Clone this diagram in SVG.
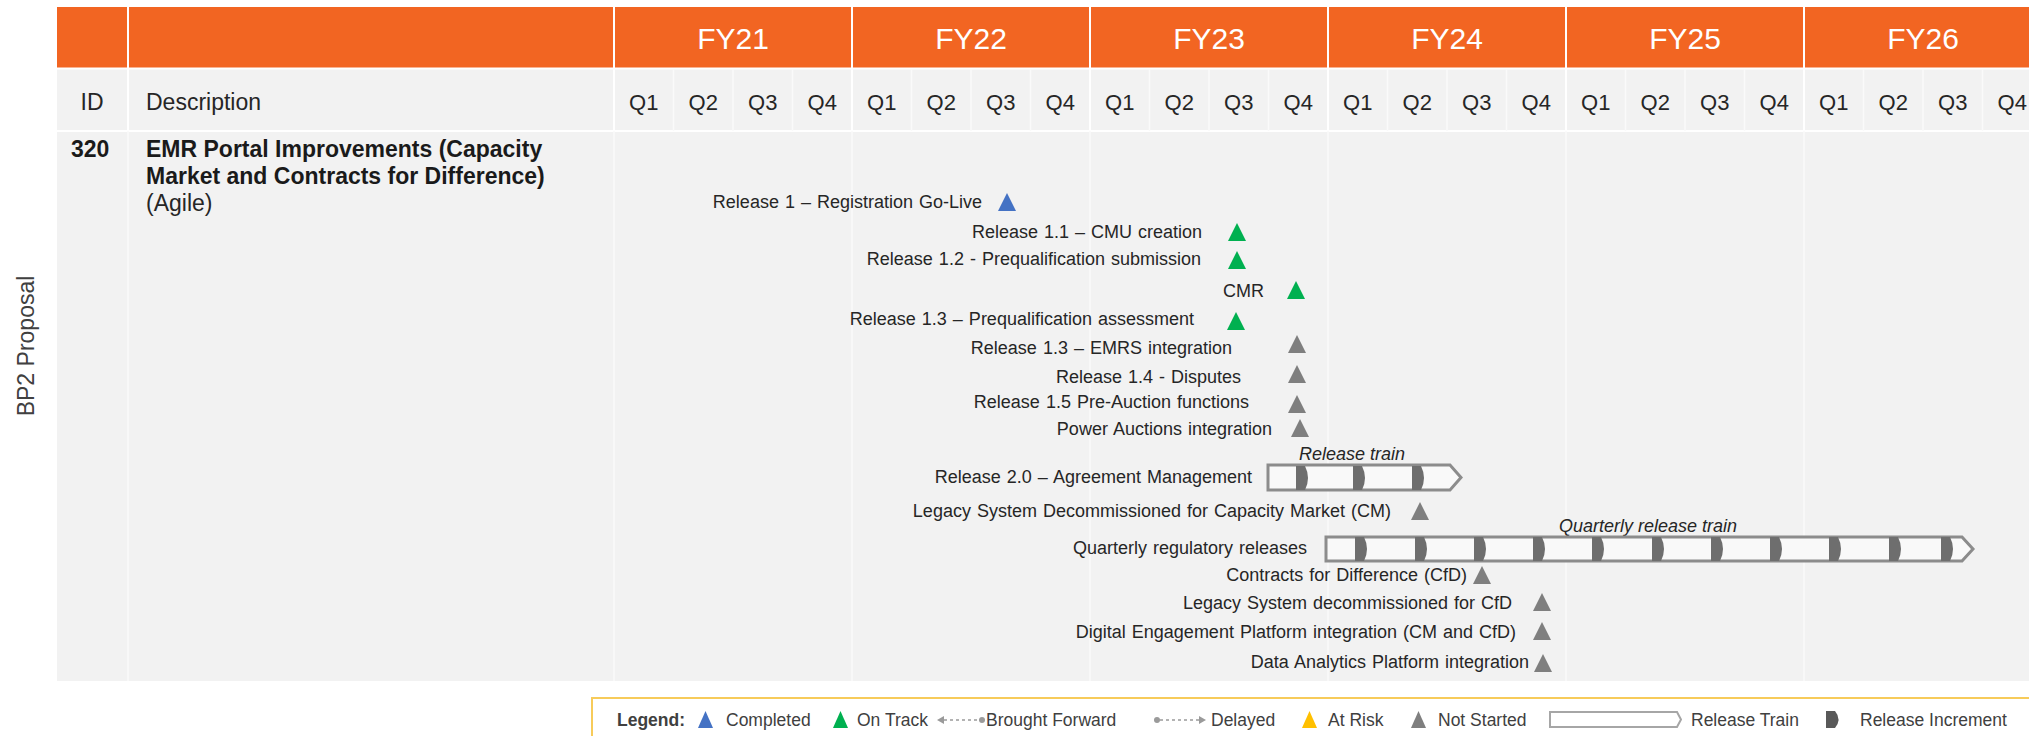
<svg xmlns="http://www.w3.org/2000/svg" width="2029" height="736" viewBox="0 0 2029 736">
<defs>
<style>
.hdr{font-family:"Liberation Sans",Arial,sans-serif;font-size:30px;fill:#fff;text-anchor:middle}
.q{font-family:"Liberation Sans",Arial,sans-serif;font-size:22px;fill:#262626;text-anchor:middle}
.t{font-family:"Liberation Sans",Arial,sans-serif;font-size:23px;fill:#262626}
.tb{font-family:"Liberation Sans",Arial,sans-serif;font-size:23px;fill:#1a1a1a;font-weight:bold}
.m{font-family:"Liberation Sans",Arial,sans-serif;font-size:18px;fill:#262626;text-anchor:end;word-spacing:1px}
.mi{font-family:"Liberation Sans",Arial,sans-serif;font-size:18px;fill:#262626;font-style:italic}
.lg{font-family:"Liberation Sans",Arial,sans-serif;font-size:17.5px;fill:#404040}
.div{stroke:#fff;stroke-width:2}
.bd{stroke:#fafafa;stroke-width:1.5}
.qd{stroke:#fafafa;stroke-width:1.5}
.blue{fill:#4472C4}.green{fill:#00B050}.gray{fill:#7F7F7F}.yellow{fill:#FFC000}
.train{fill:#f9f9f9;stroke:#8c8c8c;stroke-width:3}
.inc{fill:#6e6e6e}
</style>
<path id="tri" d="M-9,18 L0,0 L9,18 Z"/>
<path id="incp" d="M0,0 H9 Q15,12 9,24 H0 Z"/>
</defs>

<g id="table">
<rect x="57" y="7" width="1972" height="61" fill="#F26522"/>
<rect x="57" y="68" width="1972" height="613" fill="#F2F2F2"/>
<line class="div" x1="57" y1="68.5" x2="2029" y2="68.5"/>
<line class="div" x1="57" y1="131" x2="2029" y2="131"/>
<g class="div">
<line x1="128" y1="7" x2="128" y2="131"/>
<line x1="614" y1="7" x2="614" y2="131"/>
<line x1="852" y1="7" x2="852" y2="131"/>
<line x1="1090" y1="7" x2="1090" y2="131"/>
<line x1="1328" y1="7" x2="1328" y2="131"/>
<line x1="1566" y1="7" x2="1566" y2="131"/>
<line x1="1804" y1="7" x2="1804" y2="131"/>
</g>
<g class="bd">
<line x1="128" y1="131" x2="128" y2="681"/>
<line x1="614" y1="131" x2="614" y2="681"/>
<line x1="852" y1="131" x2="852" y2="681"/>
<line x1="1090" y1="131" x2="1090" y2="681"/>
<line x1="1328" y1="131" x2="1328" y2="681"/>
<line x1="1566" y1="131" x2="1566" y2="681"/>
<line x1="1804" y1="131" x2="1804" y2="681"/>
</g>
<g class="qd">
<line x1="673.5" y1="69" x2="673.5" y2="131"/><line x1="733" y1="69" x2="733" y2="131"/><line x1="792.5" y1="69" x2="792.5" y2="131"/>
<line x1="911.5" y1="69" x2="911.5" y2="131"/><line x1="971" y1="69" x2="971" y2="131"/><line x1="1030.5" y1="69" x2="1030.5" y2="131"/>
<line x1="1149.5" y1="69" x2="1149.5" y2="131"/><line x1="1209" y1="69" x2="1209" y2="131"/><line x1="1268.5" y1="69" x2="1268.5" y2="131"/>
<line x1="1387.5" y1="69" x2="1387.5" y2="131"/><line x1="1447" y1="69" x2="1447" y2="131"/><line x1="1506.5" y1="69" x2="1506.5" y2="131"/>
<line x1="1625.5" y1="69" x2="1625.5" y2="131"/><line x1="1685" y1="69" x2="1685" y2="131"/><line x1="1744.5" y1="69" x2="1744.5" y2="131"/>
<line x1="1863.5" y1="69" x2="1863.5" y2="131"/><line x1="1923" y1="69" x2="1923" y2="131"/><line x1="1982.5" y1="69" x2="1982.5" y2="131"/>
</g>
<text class="hdr" x="733" y="49">FY21</text>
<text class="hdr" x="971" y="49">FY22</text>
<text class="hdr" x="1209" y="49">FY23</text>
<text class="hdr" x="1447" y="49">FY24</text>
<text class="hdr" x="1685" y="49">FY25</text>
<text class="hdr" x="1923" y="49">FY26</text>
<text class="t" x="92" y="110" text-anchor="middle">ID</text>
<text class="t" x="146" y="110">Description</text>
<g>
<text class="q" x="643.75" y="110">Q1</text><text class="q" x="703.25" y="110">Q2</text><text class="q" x="762.75" y="110">Q3</text><text class="q" x="822.25" y="110">Q4</text>
<text class="q" x="881.75" y="110">Q1</text><text class="q" x="941.25" y="110">Q2</text><text class="q" x="1000.75" y="110">Q3</text><text class="q" x="1060.25" y="110">Q4</text>
<text class="q" x="1119.75" y="110">Q1</text><text class="q" x="1179.25" y="110">Q2</text><text class="q" x="1238.75" y="110">Q3</text><text class="q" x="1298.25" y="110">Q4</text>
<text class="q" x="1357.75" y="110">Q1</text><text class="q" x="1417.25" y="110">Q2</text><text class="q" x="1476.75" y="110">Q3</text><text class="q" x="1536.25" y="110">Q4</text>
<text class="q" x="1595.75" y="110">Q1</text><text class="q" x="1655.25" y="110">Q2</text><text class="q" x="1714.75" y="110">Q3</text><text class="q" x="1774.25" y="110">Q4</text>
<text class="q" x="1833.75" y="110">Q1</text><text class="q" x="1893.25" y="110">Q2</text><text class="q" x="1952.75" y="110">Q3</text><text class="q" x="2012.25" y="110">Q4</text>
</g>
<text class="tb" x="71" y="157">320</text>
<text class="tb" x="146" y="157">EMR Portal Improvements (Capacity</text>
<text class="tb" x="146" y="184">Market and Contracts for Difference)</text>
<text class="t" x="146" y="211">(Agile)</text>
<text x="26" y="346" transform="rotate(-90 26 346)" text-anchor="middle" dominant-baseline="central" font-family="Liberation Sans, Arial, sans-serif" font-size="23" fill="#404040">BP2 Proposal</text>
</g>

<g id="milestones">
<g id="m1"><text class="m" x="982" y="208">Release 1 – Registration Go-Live</text><use href="#tri" class="blue" x="1007" y="193"/></g>
<g id="m2"><text class="m" x="1202" y="238">Release 1.1 – CMU creation</text><use href="#tri" class="green" x="1237" y="223"/></g>
<g id="m3"><text class="m" x="1201" y="265">Release 1.2 - Prequalification submission</text><use href="#tri" class="green" x="1237" y="251"/></g>
<g id="m4"><text class="m" x="1264" y="297">CMR</text><use href="#tri" class="green" x="1296" y="281"/></g>
<g id="m5"><text class="m" x="1194" y="325">Release 1.3 – Prequalification assessment</text><use href="#tri" class="green" x="1236" y="312"/></g>
<g id="m6"><text class="m" x="1232" y="354">Release 1.3 – EMRS integration</text><use href="#tri" class="gray" x="1297" y="335"/></g>
<g id="m7"><text class="m" x="1241" y="383">Release 1.4 - Disputes</text><use href="#tri" class="gray" x="1297" y="365"/></g>
<g id="m8"><text class="m" x="1249" y="408">Release 1.5 Pre-Auction functions</text><use href="#tri" class="gray" x="1297" y="395"/></g>
<g id="m9"><text class="m" x="1272" y="435">Power Auctions integration</text><use href="#tri" class="gray" x="1300" y="419"/></g>
<g id="train1">
<text class="mi" x="1299" y="460">Release train</text>
<text class="m" x="1252" y="483">Release 2.0 – Agreement Management</text>
<path class="train" d="M1268,465 H1450 L1461,477.5 L1450,490 H1268 Z"/>
<use href="#incp" class="inc" x="1296" y="466"/>
<use href="#incp" class="inc" x="1353" y="466"/>
<use href="#incp" class="inc" x="1412" y="466"/>
</g>
<g id="m12"><text class="m" x="1391" y="517">Legacy System Decommissioned for Capacity Market (CM)</text><use href="#tri" class="gray" x="1420" y="502"/></g>
<g id="train2">
<text class="mi" x="1559" y="532">Quarterly release train</text>
<text class="m" x="1307" y="554">Quarterly regulatory releases</text>
<path class="train" d="M1326,537 H1962 L1973,549 L1962,561 H1326 Z"/>
<use href="#incp" class="inc" x="1355" y="537"/>
<use href="#incp" class="inc" x="1415" y="537"/>
<use href="#incp" class="inc" x="1474" y="537"/>
<use href="#incp" class="inc" x="1533" y="537"/>
<use href="#incp" class="inc" x="1592" y="537"/>
<use href="#incp" class="inc" x="1652" y="537"/>
<use href="#incp" class="inc" x="1711" y="537"/>
<use href="#incp" class="inc" x="1770" y="537"/>
<use href="#incp" class="inc" x="1829" y="537"/>
<use href="#incp" class="inc" x="1889" y="537"/>
<use href="#incp" class="inc" x="1941" y="537"/>
</g>
<g id="m15"><text class="m" x="1467" y="581">Contracts for Difference (CfD)</text><use href="#tri" class="gray" x="1482" y="566"/></g>
<g id="m16"><text class="m" x="1512" y="609">Legacy System decommissioned for CfD</text><use href="#tri" class="gray" x="1542" y="593"/></g>
<g id="m17"><text class="m" x="1516" y="638">Digital Engagement Platform integration (CM and CfD)</text><use href="#tri" class="gray" x="1542" y="622"/></g>
<g id="m18"><text class="m" x="1529" y="668">Data Analytics Platform integration</text><use href="#tri" class="gray" x="1543" y="654"/></g>
</g>

<g id="legend">
<rect x="592" y="698" width="1450" height="50" fill="#fff" stroke="#F7CB5A" stroke-width="2"/>
<text class="lg" x="617" y="726" font-weight="bold" fill="#262626">Legend:</text>
<path class="blue" d="M698,728 L705.5,711 L713,728 Z"/>
<text class="lg" x="726" y="726">Completed</text>
<path class="green" d="M833,728 L840.5,711 L848,728 Z"/>
<text class="lg" x="857" y="726">On Track</text>
<g stroke="#9a9a9a" fill="#9a9a9a">
<path d="M937,720 L944,716 L944,724 Z" stroke="none"/>
<line x1="944" y1="720" x2="980" y2="720" stroke-width="1.5" stroke-dasharray="3,3"/>
<circle cx="982" cy="720" r="3" stroke="none"/>
</g>
<text class="lg" x="986" y="726">Brought Forward</text>
<g stroke="#9a9a9a" fill="#9a9a9a">
<circle cx="1157" cy="720" r="3" stroke="none"/>
<line x1="1160" y1="720" x2="1199" y2="720" stroke-width="1.5" stroke-dasharray="3,3"/>
<path d="M1206,720 L1199,716 L1199,724 Z" stroke="none"/>
</g>
<text class="lg" x="1211" y="726">Delayed</text>
<path class="yellow" d="M1302,728 L1309.5,711 L1317,728 Z"/>
<text class="lg" x="1328" y="726">At Risk</text>
<path class="gray" d="M1411,728 L1418.5,711 L1426,728 Z"/>
<text class="lg" x="1438" y="726">Not Started</text>
<path d="M1550,712 H1677 L1681,719.5 L1677,727 H1550 Z" fill="#fff" stroke="#a6a6a6" stroke-width="2"/>
<text class="lg" x="1691" y="726">Release Train</text>
<path d="M1826,711 H1835 Q1842,719.5 1835,728 H1826 Z" fill="#595959"/>
<text class="lg" x="1860" y="726">Release Increment</text>
</g>
</svg>
